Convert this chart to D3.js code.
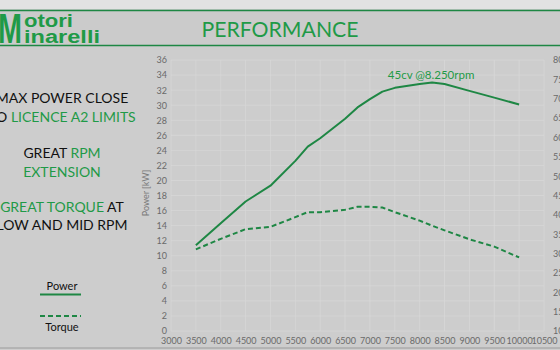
<!DOCTYPE html>
<html>
<head>
<meta charset="utf-8">
<script src="https://cdn.jsdelivr.net/npm/d3@7"></script>
<style>
html,body{margin:0;padding:0;background:#cfcfcf;overflow:hidden;}
svg{display:block;}
</style>
</head>
<body>
<svg id="chart" width="560" height="350"></svg>
<script>
// ---- data ----
const rpm         = [3500, 4000, 4500, 5000, 5500, 5750, 6000, 6500, 6750, 7000, 7250, 7500, 8000, 8250, 8500, 9000, 9500, 10000];
const powerKW     = [11.4, 14.3, 17.2, 19.3, 22.6, 24.5, 25.6, 28.2, 29.7, 30.8, 31.8, 32.3, 32.8, 33.0, 32.8, 31.9, 31.0, 30.1];
const torqueNm    = [31.1, 33.8, 36.3, 36.9, 39.4, 40.7, 40.7, 41.3, 42.1, 42.1, 41.9, 40.7, 38.5, 37.2, 36.0, 33.7, 31.8, 29.0];
const xTicks      = [3000, 3500, 4000, 4500, 5000, 5500, 6000, 6500, 7000, 7500, 8000, 8500, 9000, 9500, 10000, 10500];
const yLeftTicks  = [0, 2, 4, 6, 8, 10, 12, 14, 16, 18, 20, 22, 24, 26, 28, 30, 32, 34, 36];
const yRightTicks = [10, 15, 20, 25, 30, 35, 40, 45, 50, 55, 60, 65, 70, 75, 80];
const title       = "PERFORMANCE";
const annotation  = "45cv @8.250rpm";
const annotRpm    = 8250;
const annotKW     = 33.0;

const GREEN = "#1f9a47";
const LINE = "#1e8744";
const svg = d3.select("#chart");

// backgrounds
svg.append("rect").attr("x",0).attr("y",0).attr("width",560).attr("height",350).attr("fill","#cdcdcd");
svg.append("rect").attr("x",0).attr("y",0).attr("width",560).attr("height",9).attr("fill","#e2e2e2");
svg.append("rect").attr("x",0).attr("y",10).attr("width",560).attr("height",36).attr("fill","#cbcbcb");
svg.append("line").attr("x1",0).attr("x2",560).attr("y1",10.5).attr("y2",10.5).attr("stroke",LINE).attr("stroke-width",1.6);
svg.append("line").attr("x1",0).attr("x2",560).attr("y1",45.5).attr("y2",45.5).attr("stroke",LINE).attr("stroke-width",1.6);
svg.append("line").attr("x1",0).attr("x2",560).attr("y1",348).attr("y2",348).attr("stroke","#9a9a9a").attr("stroke-width",1);

// logo
const logo = svg.append("g").attr("font-family","Liberation Sans, Arial, sans-serif").attr("font-weight","bold").attr("fill",GREEN);
logo.append("text").attr("x",-2).attr("y",43).attr("font-size",42).attr("textLength",24).attr("lengthAdjust","spacingAndGlyphs").text("M");
logo.append("text").attr("x",24).attr("y",27).attr("font-size",18).attr("textLength",49).attr("lengthAdjust","spacingAndGlyphs").text("otori");
logo.append("text").attr("x",24).attr("y",43).attr("font-size",18).attr("textLength",76).attr("lengthAdjust","spacingAndGlyphs").text("inarelli");

// title
svg.append("text").attr("x",280).attr("y",37).attr("text-anchor","middle")
  .attr("font-family","Lato, 'Open Sans', sans-serif").attr("font-size",21).attr("fill",GREEN)
  .attr("textLength",157).attr("lengthAdjust","spacingAndGlyphs").text(title);

// left text block
const LT = svg.append("g").attr("font-family","Lato, 'Open Sans', sans-serif").attr("font-size",14).attr("text-anchor","middle");
const lines = [
  {y:103, parts:[["MAX POWER CLOSE","#111"]]},
  {y:122, parts:[["TO ","#111"],["LICENCE A2 LIMITS",GREEN]]},
  {y:158, parts:[["GREAT ","#111"],["RPM",GREEN]]},
  {y:177, parts:[["EXTENSION",GREEN]]},
  {y:212, parts:[["GREAT TORQUE",GREEN],[" AT","#111"]]},
  {y:230, parts:[["LOW AND MID RPM","#111"]]}
];
lines.forEach(l=>{
  const t = LT.append("text").attr("x",62).attr("y",l.y);
  l.parts.forEach(p=>t.append("tspan").attr("fill",p[1]).text(p[0]));
});

// legend
const LG = svg.append("g").attr("font-family","Lato, 'Open Sans', sans-serif").attr("font-size",11).attr("fill","#111").attr("text-anchor","middle");
LG.append("text").attr("x",62).attr("y",290).text("Power");
LG.append("line").attr("x1",40).attr("x2",81).attr("y1",294.5).attr("y2",294.5).attr("stroke",LINE).attr("stroke-width",2);
LG.append("line").attr("x1",40).attr("x2",81).attr("y1",316).attr("y2",316).attr("stroke",LINE).attr("stroke-width",2).attr("stroke-dasharray","5,3");
LG.append("text").attr("x",62).attr("y",331).text("Torque");

// scales
const x = d3.scaleLinear().domain([3000,10500]).range([171,544]);
const yL = d3.scaleLinear().domain([0,36]).range([331,60]);
const yR = d3.scaleLinear().domain([10,80]).range([331,60]);

// gridlines
const grid = svg.append("g").attr("stroke","#d8d8d8").attr("stroke-width",0.7);
yLeftTicks.forEach(v=>grid.append("line").attr("x1",x(3000)).attr("x2",x(10500)).attr("y1",yL(v)).attr("y2",yL(v)));
xTicks.forEach(v=>grid.append("line").attr("x1",x(v)).attr("x2",x(v)).attr("y1",yL(0)).attr("y2",yL(36)));

// axes
const axStyle = g=>{
  g.select(".domain").remove();
  g.selectAll(".tick line").remove();
  g.selectAll("text").attr("fill","#6a6a6a").attr("font-family","Lato, 'Open Sans', sans-serif").attr("font-size",9);
};
svg.append("g").attr("transform","translate(0,338)")
  .call(d3.axisBottom(x).tickValues(xTicks).tickFormat(d3.format("d")).tickSize(0).tickPadding(0))
  .call(axStyle);
svg.append("g").attr("transform","translate(167,0)")
  .call(d3.axisLeft(yL).tickValues(yLeftTicks).tickFormat(d3.format("d")).tickSize(0).tickPadding(0))
  .call(axStyle);
svg.append("g").attr("transform","translate(553,0)")
  .call(d3.axisRight(yR).tickValues(yRightTicks).tickFormat(d3.format("d")).tickSize(0).tickPadding(0))
  .call(axStyle);

svg.append("text").attr("transform","translate(149,193) rotate(-90)").attr("text-anchor","middle")
  .attr("font-family","Lato, 'Open Sans', sans-serif").attr("font-size",9).attr("fill","#7a7a7a").text("Power [kW]");

// series
const pData = rpm.map((r,i)=>[r,powerKW[i]]);
const tData = rpm.map((r,i)=>[r,torqueNm[i]]);
svg.append("path").datum(pData).attr("fill","none").attr("stroke",LINE).attr("stroke-width",2)
  .attr("stroke-linejoin","round")
  .attr("d",d3.line().x(d=>x(d[0])).y(d=>yL(d[1])));
svg.append("path").datum(tData).attr("fill","none").attr("stroke",LINE).attr("stroke-width",2)
  .attr("stroke-dasharray","5,3")
  .attr("d",d3.line().x(d=>x(d[0])).y(d=>yR(d[1])));

// annotation
svg.append("text").attr("x",x(annotRpm)-1).attr("y",yL(annotKW)-3.5).attr("text-anchor","middle")
  .attr("font-family","Lato, 'Open Sans', sans-serif").attr("font-size",11.5).attr("fill",GREEN).text(annotation);
</script>
</body>
</html>
